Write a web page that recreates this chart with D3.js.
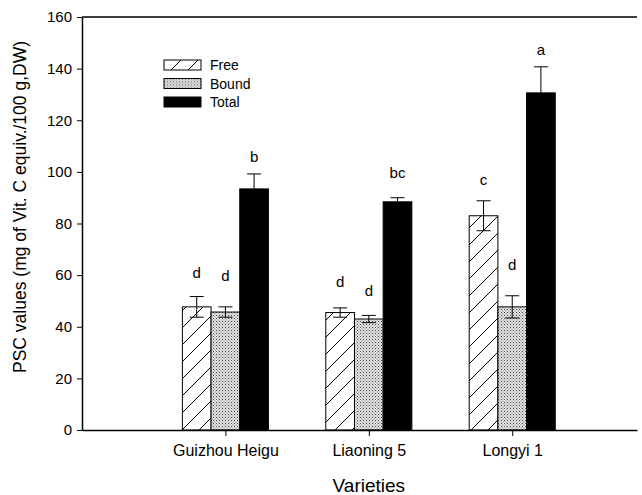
<!DOCTYPE html>
<html>
<head>
<meta charset="utf-8">
<script src="https://cdn.jsdelivr.net/npm/d3@7"></script>
<style>
  body { margin: 0; background: #fff; }
  svg { font-family: "Liberation Sans", Arial, sans-serif; }
</style>
</head>
<body>
<svg id="chart" width="642" height="495"></svg>
<script>
// values
const varieties = ["Guizhou Heigu", "Liaoning 5", "Longyi 1"];
const seriesNames = ["Free", "Bound", "Total"];
const freeVals = [47.7, 45.5, 83];
const boundVals = [45.7, 43, 47.7];
const totalVals = [93.4, 88.4, 130.6];
const freeErr = [4, 1.8, 5.8];
const boundErr = [2, 1.4, 4.3];
const totalErr = [5.8, 1.6, 10.1];
const freeLetters = ["d", "d", "c"];
const boundLetters = ["d", "d", "d"];
const totalLetters = ["b", "bc", "a"];
const freeLetterAt = [58.9, 55.4, 95];
const boundLetterAt = [57.8, 51.9, 62];
const totalLetterAt = [103.9, 97.7, 145.3];
const yTicks = [0, 20, 40, 60, 80, 100, 120, 140, 160];

const marginLeft = 82, plotRight = 637, plotTop = 17, plotBottom = 430;
const barW = 0.2;

const svg = d3.select("#chart");

const x = d3.scaleLinear().domain([0, 3.87]).range([marginLeft, plotRight]);
const y = d3.scaleLinear().domain([0, 160]).range([plotBottom, plotTop]);

// fills
const defs = svg.append("defs");
const hatch = defs.append("pattern")
  .attr("id", "hatch")
  .attr("patternUnits", "userSpaceOnUse")
  .attr("width", 17).attr("height", 17);
hatch.append("rect").attr("width", 17).attr("height", 17).attr("fill", "#fff");
hatch.append("path")
  .attr("d", "M0,17 L17,0 M-4,4 L4,-4 M13,21 L21,13")
  .attr("stroke", "#000").attr("stroke-width", 1);

const dots = defs.append("pattern")
  .attr("id", "dots")
  .attr("patternUnits", "userSpaceOnUse")
  .attr("width", 3).attr("height", 3);
dots.append("rect").attr("width", 3).attr("height", 3).attr("fill", "#e4e4e4");
dots.append("rect").attr("x", 0).attr("y", 0).attr("width", 1).attr("height", 1).attr("fill", "#444");
dots.append("rect").attr("x", 1.5).attr("y", 1.5).attr("width", 1).attr("height", 1).attr("fill", "#777");

const fills = ["url(#hatch)", "url(#dots)", "#000"];

const series = [
  { name: seriesNames[0], vals: freeVals, err: freeErr, letters: freeLetters, at: freeLetterAt },
  { name: seriesNames[1], vals: boundVals, err: boundErr, letters: boundLetters, at: boundLetterAt },
  { name: seriesNames[2], vals: totalVals, err: totalErr, letters: totalLetters, at: totalLetterAt },
];

const rows = [];
series.forEach((s, si) => {
  varieties.forEach((v, i) => {
    rows.push({
      si, i, value: s.vals[i], err: s.err[i], letter: s.letters[i], at: s.at[i],
      cx: i + 1 + (si - 1) * barW,
    });
  });
});

// bars
svg.selectAll(".bar")
  .data(rows)
  .enter()
  .append("rect")
  .attr("class", "bar")
  .attr("x", (d) => x(d.cx - barW / 2))
  .attr("width", (d) => x(barW) - x(0))
  .attr("y", (d) => y(d.value))
  .attr("height", (d) => y(0) - y(d.value))
  .attr("fill", (d) => fills[d.si])
  .attr("stroke", "#000")
  .attr("stroke-width", 1);

// error bars
const eb = svg.selectAll(".err").data(rows).enter().append("g").attr("class", "err");
eb.append("line")
  .attr("x1", (d) => x(d.cx)).attr("x2", (d) => x(d.cx))
  .attr("y1", (d) => y(d.value - d.err)).attr("y2", (d) => y(d.value + d.err))
  .attr("stroke", "#000").attr("stroke-width", 1);
eb.append("line")
  .attr("x1", (d) => x(d.cx) - 7).attr("x2", (d) => x(d.cx) + 7)
  .attr("y1", (d) => y(d.value + d.err)).attr("y2", (d) => y(d.value + d.err))
  .attr("stroke", "#000").attr("stroke-width", 1);
eb.append("line")
  .attr("x1", (d) => x(d.cx) - 7).attr("x2", (d) => x(d.cx) + 7)
  .attr("y1", (d) => y(d.value - d.err)).attr("y2", (d) => y(d.value - d.err))
  .attr("stroke", (d) => (d.si === 2 ? "none" : "#000")).attr("stroke-width", 1);

// significance letters
svg.selectAll(".letter")
  .data(rows)
  .enter()
  .append("text")
  .attr("class", "letter")
  .attr("x", (d) => x(d.cx))
  .attr("y", (d) => y(d.at))
  .attr("text-anchor", "middle")
  .style("font-size", "15px")
  .text((d) => d.letter);

// axes
const yAxis = svg.append("g")
  .attr("transform", `translate(${marginLeft},0)`)
  .call(d3.axisLeft(y).tickValues(yTicks).tickSize(5).tickSizeOuter(0).tickPadding(5));
yAxis.selectAll("text").style("font-size", "15px").attr("fill", "#000");

const xAxis = svg.append("g")
  .attr("transform", `translate(0,${plotBottom})`)
  .call(d3.axisBottom(x).tickValues([1, 2, 3]).tickFormat((d) => varieties[d - 1])
    .tickSize(6).tickSizeOuter(0).tickPadding(9));
xAxis.selectAll("text").style("font-size", "16px").attr("fill", "#000");

svg.selectAll(".domain").attr("stroke", "#000").attr("stroke-width", 1.5);
svg.selectAll(".tick line").attr("stroke", "#000").attr("stroke-width", 1);

svg.append("line")
  .attr("x1", marginLeft).attr("x2", plotRight)
  .attr("y1", plotTop).attr("y2", plotTop)
  .attr("stroke", "#000").attr("stroke-width", 1.5);

// axis titles
svg.append("text")
  .attr("transform", "translate(26,207) rotate(-90)")
  .attr("text-anchor", "middle")
  .style("font-size", "17.5px")
  .text("PSC values (mg of Vit. C equiv./100 g,DW)");

svg.append("text")
  .attr("x", x(2)).attr("y", 492)
  .attr("text-anchor", "middle")
  .style("font-size", "19px")
  .text("Varieties");

// legend
const legend = svg.selectAll(".legend")
  .data(seriesNames)
  .enter()
  .append("g")
  .attr("class", "legend")
  .attr("transform", (d, i) => `translate(164,${60 + i * 18.5})`);
legend.append("rect")
  .attr("width", 37).attr("height", 10)
  .attr("fill", (d, i) => fills[i])
  .attr("stroke", "#000").attr("stroke-width", 1);
legend.append("text")
  .attr("x", 46).attr("y", 10)
  .style("font-size", "14px")
  .text((d) => d);
</script>
</body>
</html>
